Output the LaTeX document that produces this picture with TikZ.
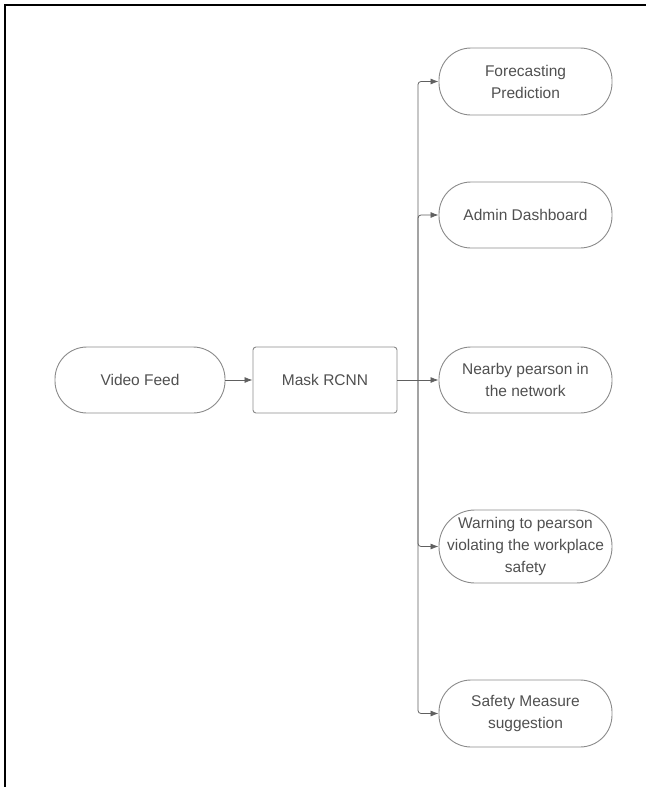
\documentclass[tikz,border=0pt]{standalone}
\usepackage{fontspec}
\setmainfont{Liberation Sans}
\usetikzlibrary{arrows.meta}
\definecolor{edgegray}{HTML}{8A8A8A}
\definecolor{linegray}{HTML}{606060}
\definecolor{textgray}{HTML}{505050}
\begin{document}
\begin{tikzpicture}[x=1pt,y=-1pt,
  every node/.style={font=\fontsize{15.5}{22}\selectfont, text=textgray, align=center, inner sep=0pt},
  pill/.style={draw=edgegray, line width=0.9pt, minimum width=#1, minimum height=66pt, rounded corners=32pt},
  pill/.default=173pt,
  tallpill/.style={draw=edgegray, line width=0.9pt, minimum width=173pt, minimum height=73pt, rounded corners=36pt},
  procbox/.style={draw=edgegray, line width=0.9pt, minimum width=144pt, minimum height=66pt, rounded corners=3pt},
  conn/.style={draw=linegray, line width=0.8pt, -{Latex[length=8pt,width=6pt]}},
  frame/.style={draw=black, line width=1.6pt}
]
\useasboundingbox (0,0) rectangle (646,787);
\draw[frame] (5,787) -- (5,5) -- (646,5);

\node[pill=170pt] (video) at (140,380) {Video Feed};
\node[procbox] (mask) at (325,380) {Mask RCNN};

\node[pill, minimum height=67pt] (fore) at (525.5,81.5) {Forecasting\\Prediction};
\node[pill] (admin) at (525.5,215) {Admin Dashboard};
\node[pill] (near) at (525.5,380) {Nearby pearson in\\the network};
\node[tallpill] (warn) at (525.5,546.5) {Warning to pearson\\violating the workplace\\safety};
\node[pill, minimum height=67pt] (safe) at (525.5,713.5) {Safety Measure\\suggestion};

\coordinate (bus) at (418,380);

\draw[conn] (video) -- (mask);
\draw[conn] (mask) -- (near);
\draw[conn, rounded corners=3pt] (bus) |- (fore.west);
\draw[conn, rounded corners=3pt] (bus) |- (admin.west);
\draw[conn, rounded corners=3pt] (bus) |- (warn.west);
\draw[conn, rounded corners=3pt] (bus) |- (safe.west);
\end{tikzpicture}
\end{document}
